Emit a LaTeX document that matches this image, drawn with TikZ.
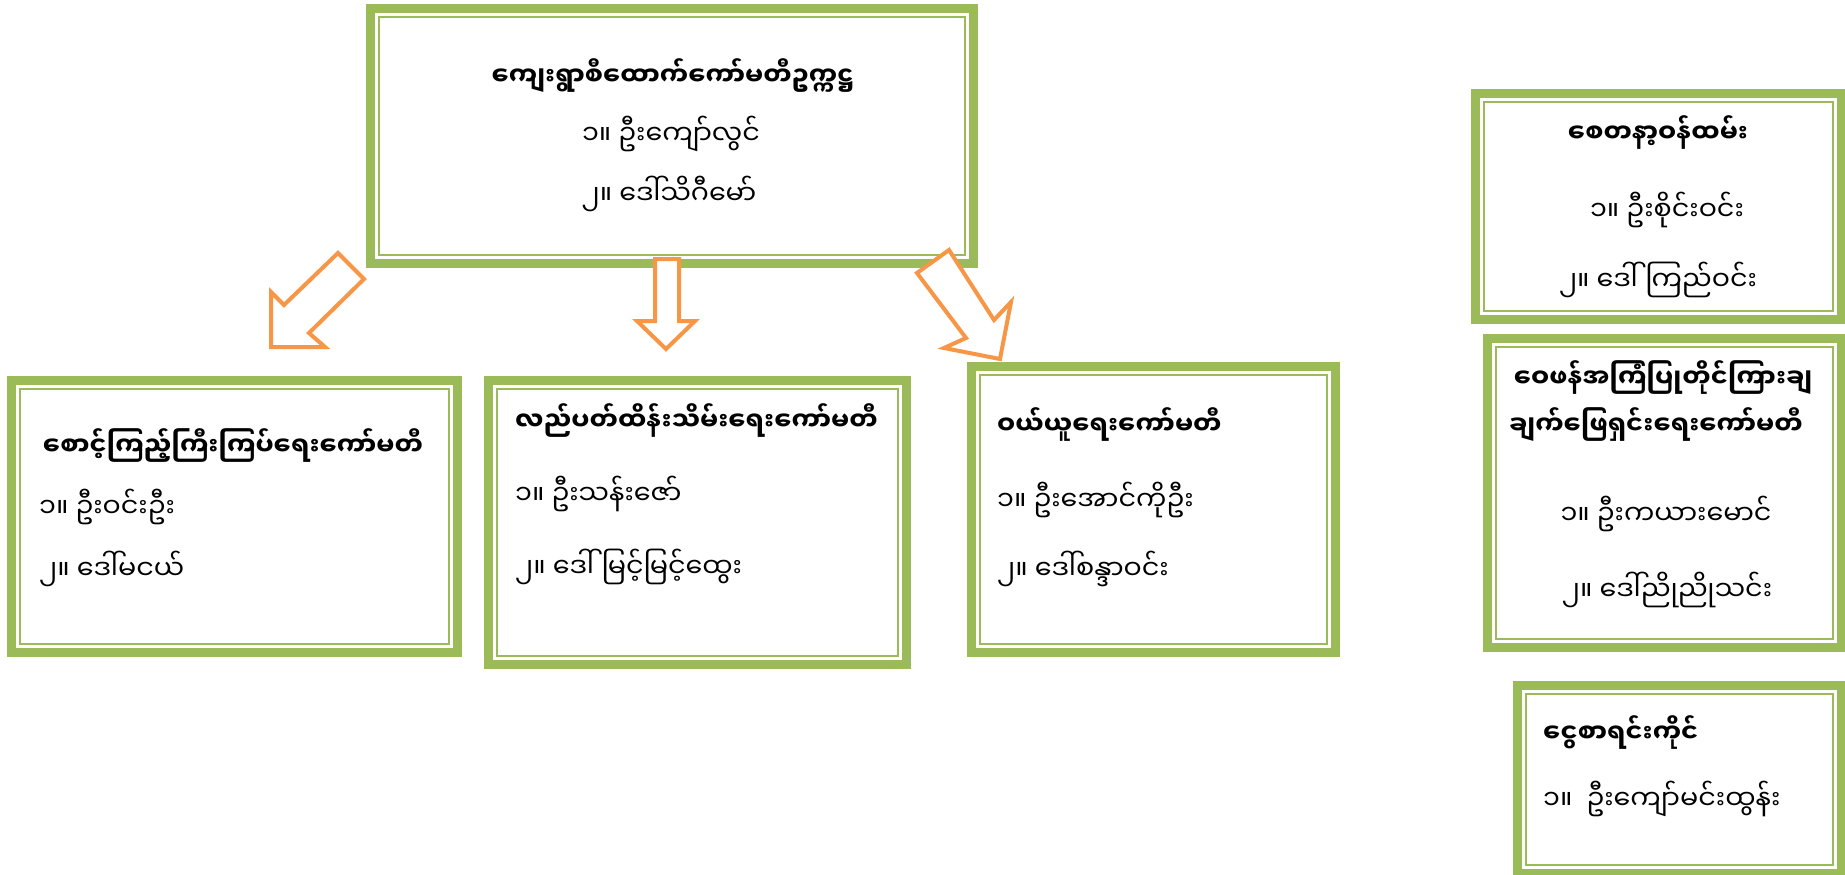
\documentclass[tikz,border=0pt]{standalone}
\usepackage{fontspec}
\newfontfamily\my[Script=Myanmar]{Noto Sans Myanmar UI}
\definecolor{gr}{HTML}{9BBB59}
\definecolor{og}{HTML}{F79646}
\newcommand\gbox[5]{%
  \draw[gr, line width=9pt] (#2+4.5,#3+4.5) rectangle (#4-4.5,#5-4.5);
  \draw[gr, line width=2pt] (#2+13,#3+13) rectangle (#4-13,#5-13);
  \coordinate (#1) at ({(#2+#4)/2},{(#3+#5)/2});
}
\tikzset{
  lbl/.style={font=\my\fontsize{27}{32}\selectfont, inner sep=0pt, text height=20pt, text depth=6pt},
  ttl/.style={lbl, font=\my\bfseries\fontsize{25.5}{30}\selectfont},
  blockarrow/.style={draw=og, fill=white, line width=4pt, line join=miter},
}
\begin{document}
\begin{tikzpicture}[x=1pt,y=-1pt]
\useasboundingbox (0,0) rectangle (1845,875);
\fill[white] (0,0) rectangle (1845,875);
% boxes
\gbox{top}{366}{4}{978}{268}
\gbox{la}{7}{376}{462}{657}
\gbox{lb}{484}{376}{911}{669}
\gbox{lc}{967}{362}{1340}{657}
\gbox{ra}{1471}{89}{1846}{324}
\gbox{rb}{1483}{334}{1846}{652}
\gbox{rc}{1513}{681}{1846}{878}
% texts
\node[ttl] (t0) at (673,78) {ကျေးရွာစီထောက်ကော်မတီဥက္ကဋ္ဌ};
\node[lbl] (t1) at (671,137) {၁။ ဦးကျော်လွင်};
\node[lbl] (t2) at (669,197) {၂။ ဒေါ်သိဂီမော်};
\node[ttl] (a0) at (233,448) {စောင့်ကြည့်ကြီးကြပ်ရေးကော်မတီ};
\node[lbl, anchor=west] (a1) at (39,510) {၁။ ဦးဝင်းဦး};
\node[lbl, anchor=west] (a2) at (39,572) {၂။ ဒေါ်မငယ်};
\node[ttl, anchor=west] (b0) at (515,423) {လည်ပတ်ထိန်းသိမ်းရေးကော်မတီ};
\node[lbl, anchor=west] (b1) at (515,497) {၁။ ဦးသန်းဇော်};
\node[lbl, anchor=west] (b2) at (515,570) {၂။ ဒေါ်မြင့်မြင့်ထွေး};
\node[ttl, anchor=west] (c0) at (997,427) {ဝယ်ယူရေးကော်မတီ};
\node[lbl, anchor=west] (c1) at (997,503) {၁။ ဦးအောင်ကိုဦး};
\node[lbl, anchor=west] (c2) at (997,572) {၂။ ဒေါ်စန္ဒာဝင်း};
\node[ttl] (d0) at (1658,135) {စေတနာ့ဝန်ထမ်း};
\node[lbl] (d1) at (1667,213) {၁။ ဦးစိုင်းဝင်း};
\node[lbl] (d2) at (1658,283) {၂။ ဒေါ်ကြည်ဝင်း};
\node[ttl] (e0) at (1663,380) {ဝေဖန်အကြံပြုတိုင်ကြားချ};
\node[ttl] (e0b) at (1656,427) {ချက်ဖြေရှင်းရေးကော်မတီ};
\node[lbl] (e1) at (1666,517) {၁။ ဦးကယားမောင်};
\node[lbl] (e2) at (1667,593) {၂။ ဒေါ်ညိုညိုသင်း};
\node[ttl, anchor=west] (f0) at (1543,735) {ငွေစာရင်းကိုင်};
\node[lbl, anchor=west] (f1) at (1543,802) {၁။~~ဦးကျော်မင်းထွန်း};
% arrows
\draw[blockarrow] (338,253) -- (364,279) -- (309,333) -- (325,347) -- (271,347) -- (271,292) -- (284,305) -- cycle;
\draw[blockarrow] (655,259) -- (679,259) -- (679,321) -- (695,321) -- (666,349) -- (637,321) -- (655,321) -- cycle;
\draw[blockarrow] (949,250) -- (994,320) -- (1011,302) -- (1000,359) -- (944,348) -- (966,338) -- (917,273) -- cycle;
\end{tikzpicture}
\end{document}
